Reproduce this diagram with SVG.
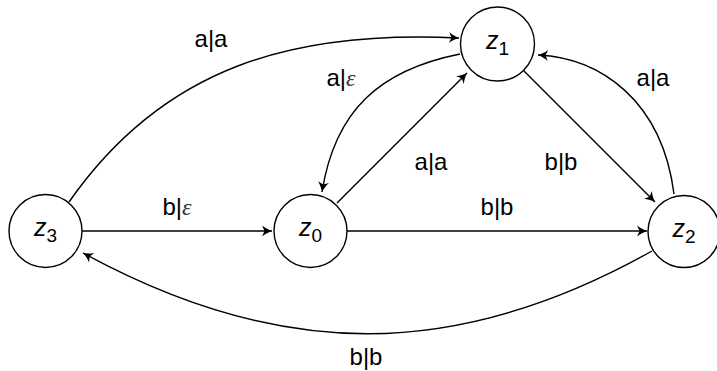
<svg xmlns="http://www.w3.org/2000/svg" width="717" height="371" viewBox="0 0 717 371">
<style>
.node{fill:#fff;stroke:#000;stroke-width:1.4}
.edge{fill:none;stroke:#000;stroke-width:1.4;marker-end:url(#arr)}
.lbl{font-family:"Liberation Sans",Arial,sans-serif;font-size:24px;text-anchor:middle;fill:#000}
.eps{font-family:"Liberation Serif","DejaVu Serif",serif;font-style:italic;fill:#333}
.nl{font-family:"Liberation Sans",Arial,sans-serif;font-size:25px;text-anchor:middle;fill:#000}
.z{font-style:italic}
.sub{font-size:19px}
</style>
<defs>
<marker id="arr" viewBox="-11 -6 12 12" refX="0" refY="0" markerWidth="12" markerHeight="12" markerUnits="userSpaceOnUse" orient="auto">
<path d="M0,0 C-3,-1 -7,-3 -10,-5.5 L-7.5,0 L-10,5.5 C-7,3 -3,1 0,0Z" fill="#000"/>
</marker>
</defs>
<g id="edges">
<path class="edge" d="M82,231 L272,231"/>
<path class="edge" d="M347,231 L647,231"/>
<path class="edge" d="M337,203 L467,73"/>
<path class="edge" d="M523,70 L655,202"/>
<path class="edge" d="M69,202 C164,66 294,30 459,38"/>
<path class="edge" d="M460,54 C380,70 335,110 322,192"/>
<path class="edge" d="M674,194 C662,100 600,58 538,55"/>
<path class="edge" d="M652,251 C456,361 281,361 83,253"/>
</g>
<g id="edge-labels">
<text class="lbl" x="211" y="47">a|a</text>
<text class="lbl" x="341" y="86">a|<tspan class="eps">ε</tspan></text>
<text class="lbl" x="431" y="170">a|a</text>
<text class="lbl" x="561" y="170">b|b</text>
<text class="lbl" x="653" y="86">a|a</text>
<text class="lbl" x="177" y="215">b|<tspan class="eps">ε</tspan></text>
<text class="lbl" x="497" y="215">b|b</text>
<text class="lbl" x="366" y="365">b|b</text>
</g>
<g id="z3">
<circle class="node" cx="45.5" cy="231" r="36.5"/>
<text class="nl" x="45.5" y="236"><tspan class="z">z</tspan><tspan class="sub" dy="6">3</tspan></text>
</g>
<g id="z0">
<circle class="node" cx="310.5" cy="231" r="36.5"/>
<text class="nl" x="310.5" y="236"><tspan class="z">z</tspan><tspan class="sub" dy="6">0</tspan></text>
</g>
<g id="z1">
<circle class="node" cx="497.5" cy="44" r="37"/>
<text class="nl" x="497.5" y="49"><tspan class="z">z</tspan><tspan class="sub" dy="6">1</tspan></text>
</g>
<g id="z2">
<circle class="node" cx="684" cy="231.5" r="36"/>
<text class="nl" x="684" y="236.5"><tspan class="z">z</tspan><tspan class="sub" dy="6">2</tspan></text>
</g>
</svg>
